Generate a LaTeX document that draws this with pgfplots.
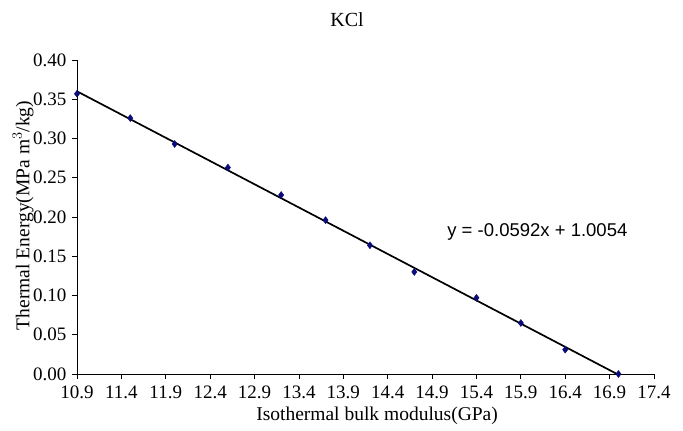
\documentclass[border=0pt]{standalone}
\usepackage{fontspec}
\setmainfont{Liberation Serif}
\newfontfamily\arialf{Liberation Sans}
\usepackage{pgfplots}
\pgfplotsset{compat=1.18}
\definecolor{navy}{RGB}{10,10,120}
\begin{document}
\begin{tikzpicture}
  \path[use as bounding box] (-77pt,-57pt) rectangle (606pt,374pt);
  \begin{axis}[
      scale only axis, width=577pt, height=314pt,
      xmin=10.9, xmax=17.4, ymin=0, ymax=0.4,
      xtick={10.9,11.4,...,17.4}, ytick={0,0.05,...,0.4},
      xticklabel style={yshift=-3pt, /pgf/number format/.cd,fixed,fixed zerofill,precision=1},
      yticklabel style={xshift=-2pt, /pgf/number format/.cd,fixed,fixed zerofill,precision=2},
      /pgf/number format/assume math mode=true,
      tick label style={font=\fontsize{19}{20}\selectfont},
      axis x line=bottom, axis y line=left,
      axis line style={-, line width=0.8pt},
      tick align=outside, major tick length=5pt,
      tick style={black, line width=0.8pt},
      xlabel={Isothermal bulk modulus(GPa)},
      ylabel={Thermal Energy(MPa m$^3$/kg)},
      label style={font=\fontsize{19.5}{21}\selectfont},
      xlabel style={at={(axis description cs:0.52,0)}, anchor=center, yshift=-42pt},
      ylabel style={at={(axis description cs:0,0.505)}, anchor=center, yshift=54pt},
      clip=false]
    \addplot[black, line width=1.7pt] coordinates {(10.9,0.3601)(16.98,0.0002)};
    \addplot[only marks, mark=diamond*, mark size=3.5pt, color=navy] coordinates {
      (10.9,0.357)(11.5,0.326)(12.0,0.293)(12.6,0.263)(13.2,0.228)(13.7,0.196)
      (14.2,0.164)(14.7,0.130)(15.4,0.097)(15.9,0.065)(16.4,0.031)(17.0,0.0)};
    \node[anchor=west, font=\arialf\fontsize{18.5}{20}\selectfont, inner sep=0pt]
      at (axis cs:15.07,0.181) {y = -0.0592x + 1.0054};
  \end{axis}
  \node[font=\fontsize{20}{22}\selectfont] at (270pt,354pt) {KCl};
\end{tikzpicture}
\end{document}
